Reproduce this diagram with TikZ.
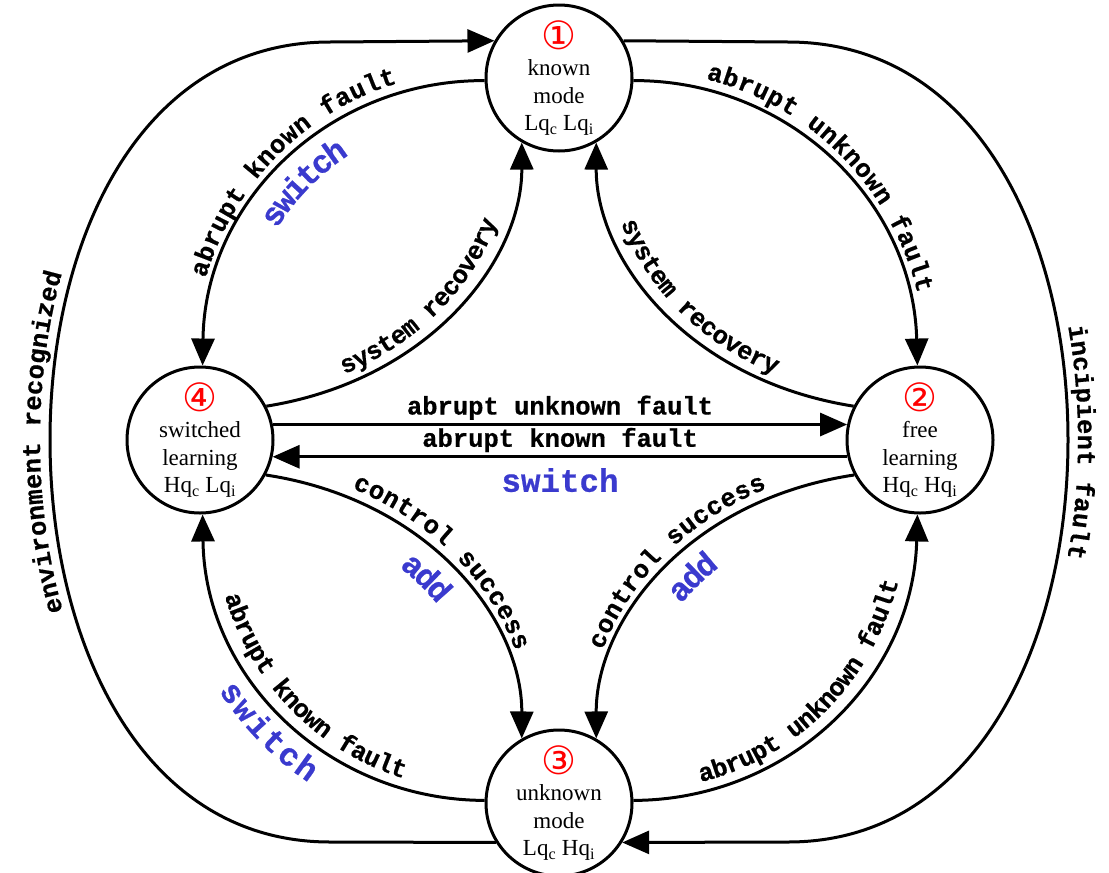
\documentclass[tikz,border=0pt]{standalone}
\usepackage{fontspec}
\setmainfont{Liberation Serif}
\newfontfamily\heavymono{Liberation Mono}[BoldFeatures={FakeBold=0.6}]
\newfontfamily\circfont{DejaVu Sans}
\usetikzlibrary{arrows.meta,decorations.text}
\definecolor{swblue}{RGB}{58,58,206}
\definecolor{numred}{RGB}{255,0,0}
\newcommand\lblfont{\heavymono\bfseries\fontsize{25.5pt}{28pt}\selectfont}
\newcommand\swfont{\color{swblue}\heavymono\bfseries\fontsize{32.5pt}{36pt}\selectfont}
\newcommand\cnum[1]{{\circfont\fontsize{39pt}{39pt}\selectfont\color{numred}#1}}
\begin{document}
\begin{tikzpicture}[x=1pt,y=-1pt,
  state/.style={circle, draw, line width=3pt, minimum size=146pt, inner sep=0pt, align=center,
    font=\fontsize{23pt}{27.5pt}\selectfont},
  edge/.style={line width=3pt, -{Triangle[length=27pt,width=23pt]}},
  lbl/.style={decorate, decoration={text along path, text={|\lblfont|#1}, text align=center, raise=10pt}},
  swl/.style={decorate, decoration={text along path, text={|\swfont|#1}, text align=center, raise=-35pt}},
]
\useasboundingbox (0,0) rectangle (1109,873);

\node[state] (n1) at (559,78) {\cnum{①}\\[-1pt]known\\mode\\Lq\textsubscript{c} Lq\textsubscript{i}};
\node[state] (n2) at (920,440) {\cnum{②}\\[-1pt]free\\learning\\Hq\textsubscript{c} Hq\textsubscript{i}};
\node[state] (n3) at (559,803) {\cnum{③}\\[-1pt]unknown\\mode\\Lq\textsubscript{c} Hq\textsubscript{i}};
\node[state] (n4) at (200,440) {\cnum{④}\\[-1pt]switched\\learning\\Hq\textsubscript{c} Lq\textsubscript{i}};

% curved edges
\draw[edge] (n1.182) .. controls (330,80) and (205,200) .. (n4.88);
\draw[edge] (n1.-2) .. controls (788,80) and (913,200) .. (n2.92);
\draw[edge] (n4.27) .. controls (430,380) and (522,260) .. (n1.240);
\draw[edge] (n2.153) .. controls (688,380) and (596,260) .. (n1.300);
\draw[edge] (n4.-28) .. controls (430,500) and (522,620) .. (n3.120);
\draw[edge] (n2.208) .. controls (688,500) and (596,620) .. (n3.60);
\draw[edge] (n3.178) .. controls (330,800) and (205,680) .. (n4.-88);
\draw[edge] (n3.2) .. controls (788,800) and (913,680) .. (n2.-92);
% straight edges
\draw[edge] (n4.12) -- (n2.168);
\draw[edge] (n2.193) -- (n4.-13);
% outer edges
\draw[edge] (n3.212) -- (330,842) .. controls (140,842) and (50,640) .. (50,440)
  .. controls (50,240) and (140,42) .. (330,42) -- (n1.150);
\draw[edge] (n1.30) -- (788,42) .. controls (978,42) and (1068,240) .. (1068,440)
  .. controls (1068,640) and (978,842) .. (788,842) -- (n3.-32);

% labels
\path[lbl={abrupt known fault}] (n4.88) .. controls (205,200) and (330,80) .. (n1.182);
\path[swl={switch}] (n4.88) .. controls (205,200) and (330,80) .. (n1.182);
\path[lbl={abrupt unknown fault}] (n1.-2) .. controls (788,80) and (913,200) .. (n2.92);
\path[lbl={system recovery}] (n4.27) .. controls (430,380) and (522,260) .. (n1.240);
\path[lbl={system recovery}] (n1.300) .. controls (596,260) and (688,380) .. (n2.153);
\path[lbl={abrupt unknown fault}] (n4.12) -- (n2.168);
\path[lbl={abrupt known fault}] (n4.-13) -- (n2.193);
\path[swl={switch}] (n4.-13) -- (n2.193);
\path[lbl={control success}] (n4.-28) .. controls (430,500) and (522,620) .. (n3.120);
\path[swl={add}] (n4.-28) .. controls (430,500) and (522,620) .. (n3.120);
\path[lbl={control success}] (n3.60) .. controls (596,620) and (688,500) .. (n2.208);
\path[swl={add}] (n3.60) .. controls (596,620) and (688,500) .. (n2.208);
\path[lbl={abrupt known fault}] (n4.-88) .. controls (205,680) and (330,800) .. (n3.178);
\path[swl={switch}] (n4.-88) .. controls (205,680) and (330,800) .. (n3.178);
\path[lbl={abrupt unknown fault}] (n3.2) .. controls (788,800) and (913,680) .. (n2.-92);
\path[lbl={environment recognized}] (n3.212) -- (330,842) .. controls (140,842) and (50,640) .. (50,440)
  .. controls (50,240) and (140,42) .. (330,42) -- (n1.150);
\path[lbl={incipient fault}] (n1.30) -- (788,42) .. controls (978,42) and (1068,240) .. (1068,440)
  .. controls (1068,640) and (978,842) .. (788,842) -- (n3.-32);
\end{tikzpicture}
\end{document}
